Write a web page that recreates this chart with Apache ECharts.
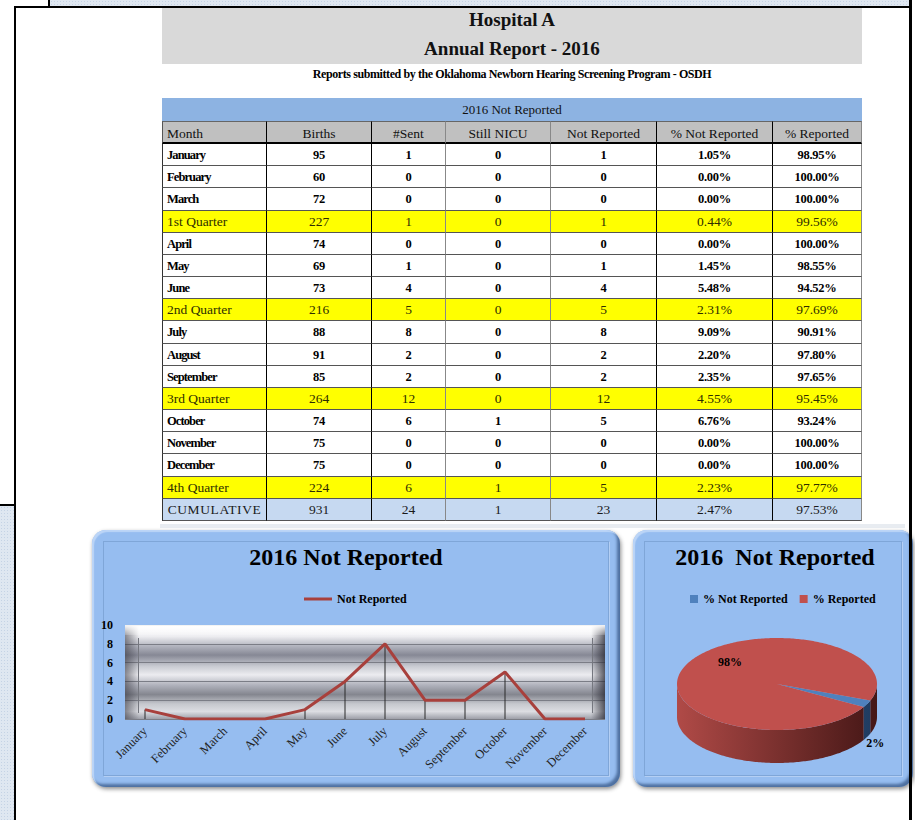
<!DOCTYPE html>
<html>
<head>
<meta charset="utf-8">
<script src="https://cdn.jsdelivr.net/npm/echarts@6/dist/echarts.min.js"></script>
<style>
  body { margin: 0; width: 915px; height: 820px; position: relative; overflow: hidden; background: #fff; font-family: "Liberation Serif", "DejaVu Serif", serif; }
  .abs { position: absolute; }
  .pattern { background-color: #dfe7f1; background-image: radial-gradient(#c5d3e5 0.8px, transparent 1px); background-size: 3px 3px; }
  .cell { position: absolute; box-sizing: border-box; text-align: center; white-space: nowrap; overflow: hidden; color: #000; }
  .panel { position: absolute; border-radius: 14px; background: #96bdf0;
    box-shadow: inset 2px 2px 1px #bcd5f7, inset -3px -3px 3px #4e70a0, 1px 2px 4px rgba(0,0,0,0.45); }
  .panel .inner { position: absolute; left: 11px; top: 11px; right: 11px; bottom: 11px; border: 1px solid #7fa6d8; box-shadow: 1px 1px 0 #b4cff4; }
</style>
</head>
<body>
<div class="abs pattern" style="left:48px;top:0;width:860px;height:6px;border-left:2px solid #000"></div>
<div class="abs" style="left:14px;top:6px;width:898px;height:2px;background:#000"></div>
<div class="abs" style="left:14px;top:6px;width:2px;height:814px;background:#000"></div>
<div class="abs pattern" style="left:0;top:504px;width:14px;height:316px;border-top:2px solid #000"></div>

<div class="abs" style="left:162px;top:8px;width:700px;height:56px;background:#d9d9d9"></div>
<div class="abs" style="left:162px;top:8px;width:700px;text-align:center;font-weight:bold;font-size:19px;line-height:23px;color:#111">Hospital A</div>
<div class="abs" style="left:162px;top:37px;width:700px;text-align:center;font-weight:bold;font-size:19px;line-height:23px;color:#111">Annual Report - 2016</div>
<div class="abs" style="left:162px;top:67px;width:700px;text-align:center;font-weight:bold;font-size:12px;letter-spacing:-0.4px;line-height:15px">Reports submitted by the Oklahoma Newborn Hearing Screening Program - OSDH</div>

<div id="tbl"></div>
<div class="abs" style="left:160px;top:524px;width:745px;height:4px;background:#e8ecf1"></div>

<div class="panel" style="left:92px;top:530px;width:528px;height:257px"><div class="inner"></div></div>
<div class="panel" style="left:633px;top:530px;width:280px;height:257px"><div class="inner"></div></div>
<div id="lc" class="abs" style="left:92px;top:530px;width:528px;height:257px"></div>
<div id="pc" class="abs" style="left:633px;top:530px;width:279px;height:257px"></div>

<div class="abs" style="left:909px;top:0;width:3px;height:820px;background:#000"></div>

<script>
// table data
const rowLabels = ['January', 'February', 'March', '1st Quarter', 'April', 'May', 'June', '2nd Quarter',
  'July', 'August', 'September', '3rd Quarter', 'October', 'November', 'December', '4th Quarter', 'CUMULATIVE']
const births = [95, 60, 72, 227, 74, 69, 73, 216, 88, 91, 85, 264, 74, 75, 75, 224, 931]
const sent = [1, 0, 0, 1, 0, 1, 4, 5, 8, 2, 2, 12, 6, 0, 0, 6, 24]
const stillNicu = [0, 0, 0, 0, 0, 0, 0, 0, 0, 0, 0, 0, 1, 0, 0, 1, 1]
const notReported = [1, 0, 0, 1, 0, 1, 4, 5, 8, 2, 2, 12, 5, 0, 0, 5, 23]
const pctNotReported = ['1.05%', '0.00%', '0.00%', '0.44%', '0.00%', '1.45%', '5.48%', '2.31%', '9.09%', '2.20%',
  '2.35%', '4.55%', '6.76%', '0.00%', '0.00%', '2.23%', '2.47%']
const pctReported = ['98.95%', '100.00%', '100.00%', '99.56%', '100.00%', '98.55%', '94.52%', '97.69%', '90.91%',
  '97.80%', '97.65%', '95.45%', '93.24%', '100.00%', '100.00%', '97.77%', '97.53%']
const headers = ['Month', 'Births', '#Sent', 'Still NICU', 'Not Reported', '% Not Reported', '% Reported']

// line chart data
const months = ['January', 'February', 'March', 'April', 'May', 'June', 'July', 'August', 'September', 'October', 'November', 'December']
const notReportedByMonth = [1, 0, 0, 0, 1, 4, 8, 2, 2, 5, 0, 0]

// pie data
const pieNames = ['% Not Reported', '% Reported']
const pieValues = [2.47, 97.53]
const pieColors = ['#4f81bd', '#c0504d']

const FONT = '"Liberation Serif", "DejaVu Serif", serif'

// ---- table ----
const tbl = document.getElementById('tbl')
const colX = [162, 267, 372, 446, 551, 657, 773, 862]
const colBorder = ['#000', '#000', '#888', '#888', '#000', '#000', '#888']
function addCell (x, y, w, h, html, css) {
  const d = document.createElement('div')
  d.className = 'cell'
  d.style.cssText = `left:${x}px;top:${y}px;width:${w}px;height:${h}px;line-height:${h}px;` + (css || '')
  d.textContent = html
  tbl.appendChild(d)
}
addCell(162, 98, 700, 23, '2016 Not Reported', 'background:#8db3e2;font-size:13px;color:#111;')
headers.forEach((h, c) => {
  addCell(colX[c], 121, colX[c + 1] - colX[c], 23, h,
    `background:#c0c0c0;font-size:13.5px;color:#111;border-right:1px solid ${colBorder[c]};border-top:1px solid #666;border-bottom:2px solid #000;` +
    (c === 0 ? 'text-align:left;padding-left:4px;border-left:1px solid #555;' : ''))
})
const rowH = 377 / 17
rowLabels.forEach((lab, i) => {
  const y = 144 + i * rowH
  const quarter = lab.indexOf('Quarter') >= 0
  const cum = lab === 'CUMULATIVE'
  const vals = [lab, births[i], sent[i], stillNicu[i], notReported[i], pctNotReported[i], pctReported[i]]
  vals.forEach((v, c) => {
    let css = `border-right:1px solid ${colBorder[c]};border-bottom:1px solid #555;`
    if (quarter) css += 'background:#ffff00;color:#2e2e00;font-size:13.5px;'
    else if (cum) css += 'background:#c6d9f1;color:#1a1a1a;font-size:13.5px;'
    else css += 'font-weight:bold;font-size:12.5px;letter-spacing:-0.3px;'
    if (c === 0) {
      css += 'border-left:1px solid #333;'
      if (cum) css += 'letter-spacing:0.6px;'
      else css += 'text-align:left;padding-left:4px;' + (quarter ? '' : 'letter-spacing:-0.9px;')
    }
    addCell(colX[c], Math.round(y), colX[c + 1] - colX[c], Math.round(y + rowH) - Math.round(y), String(v), css)
  })
})

// ---- line chart ----
const lc = echarts.init(document.getElementById('lc'), null, { renderer: 'svg' })
const metal = new echarts.graphic.LinearGradient(0, 0, 0, 1, [
  { offset: 0, color: '#ffffff' }, { offset: 0.12, color: '#eeeef1' }, { offset: 0.22, color: '#b4b6c0' },
  { offset: 0.32, color: '#868895' }, { offset: 0.44, color: '#c9cbd2' }, { offset: 0.53, color: '#ececf0' },
  { offset: 0.64, color: '#b0b2bc' }, { offset: 0.74, color: '#84868f' }, { offset: 0.84, color: '#c6c8ce' },
  { offset: 0.92, color: '#dcdde2' }, { offset: 1, color: '#9d9fa8' }
])
lc.setOption({
  animation: false,
  graphic: [
    { type: 'text', x: 254, y: 27, z: 10,
      style: { text: '2016 Not Reported', font: 'bold 24px ' + FONT, fill: '#000', textAlign: 'center', align: 'center', textVerticalAlign: 'middle', verticalAlign: 'middle' } },
    { type: 'rect', z: 1, silent: true, shape: { x: 33, y: 95, width: 14, height: 94 },
      style: { fill: new echarts.graphic.LinearGradient(0, 0, 1, 0, [{ offset: 0, color: 'rgba(50,50,60,0.55)' }, { offset: 1, color: 'rgba(50,50,60,0)' }]) } },
    { type: 'rect', z: 1, silent: true, shape: { x: 499, y: 95, width: 14, height: 94 },
      style: { fill: new echarts.graphic.LinearGradient(0, 0, 1, 0, [{ offset: 0, color: 'rgba(50,50,60,0)' }, { offset: 1, color: 'rgba(40,40,50,0.75)' }]) } },
    { type: 'rect', z: 1, silent: true, shape: { x: 33, y: 95, width: 480, height: 10 },
      style: { fill: new echarts.graphic.LinearGradient(0, 0, 0, 1, [{ offset: 0, color: 'rgba(255,255,255,0.95)' }, { offset: 1, color: 'rgba(255,255,255,0.2)' }]) } },
    { type: 'line', z: 1, silent: true, shape: { x1: 46.5, y1: 108, x2: 46.5, y2: 183 }, style: { stroke: '#75777f', lineWidth: 1 } },
    { type: 'line', z: 1, silent: true, shape: { x1: 500.5, y1: 108, x2: 500.5, y2: 183 }, style: { stroke: '#75777f', lineWidth: 1 } }
  ],
  legend: {
    data: ['Not Reported'], left: 207, top: 58, icon: 'rect', itemWidth: 28, itemHeight: 3, itemGap: 4,
    textStyle: { fontFamily: FONT, fontWeight: 'bold', fontSize: 12, color: '#000' }
  },
  grid: {
    left: 33, right: 15, top: 95, bottom: 68, show: true, borderWidth: 0, backgroundColor: metal
  },
  xAxis: {
    type: 'category', data: months, boundaryGap: true,
    axisTick: { show: false },
    axisLine: { show: false },
    axisLabel: { interval: 0, rotate: 45, margin: 10, fontFamily: FONT, fontSize: 12.5, color: '#222' }
  },
  yAxis: {
    type: 'value', min: 0, max: 10, interval: 2,
    axisLine: { show: false }, axisTick: { show: false },
    axisLabel: { margin: 12, fontFamily: FONT, fontWeight: 'bold', fontSize: 12, color: '#000' },
    splitLine: { lineStyle: { color: '#7b7d86', width: 1 } }
  },
  series: [
    { name: 'drop', type: 'bar', data: notReportedByMonth, barWidth: 1, silent: true, z: 2,
      itemStyle: { color: '#2a2a2a' } },
    { name: 'Not Reported', type: 'line', data: notReportedByMonth, symbol: 'none', z: 3,
      lineStyle: { color: '#a8403c', width: 3 }, itemStyle: { color: '#a8403c' } }
  ]
})

// ---- 3D-looking pie ----
const pc = echarts.init(document.getElementById('pc'), null, { renderer: 'svg' })
const cx = 144, cy = 154, rx = 100, ry = 46, depth = 33, startDeg = 21
const total = pieValues.reduce((a, b) => a + b, 0)
const sideColors = [['#3a6396', '#1f3b60'], ['#b04a47', '#451716']]
function pt (deg, dy) {
  const r = deg * Math.PI / 180
  return [cx + rx * Math.cos(r), cy + ry * Math.sin(r) + (dy || 0)]
}
function arc (a, b, dy) {
  const pts = []
  const n = Math.max(2, Math.ceil(Math.abs(b - a)))
  for (let k = 0; k <= n; k++) pts.push(pt(a + (b - a) * k / n, dy))
  return pts
}
function pieRender (idx) {
  return function (params, api) {
    let start = startDeg
    for (let k = 0; k < idx; k++) start += pieValues[k] / total * 360
    const end = start + api.value(0) / total * 360
    const children = []
    for (let turn = 0; turn < 2; turn++) {
      const lo = Math.max(start, 360 * turn)
      const hi = Math.min(end, 360 * turn + 180)
      if (hi > lo) {
        const pts = arc(lo, hi, 0).concat(arc(hi, lo, depth))
        children.push({
          type: 'polygon', shape: { points: pts },
          style: { fill: new echarts.graphic.LinearGradient(cx - rx, 0, cx + rx, 0, [
            { offset: 0, color: sideColors[idx][0] }, { offset: 1, color: sideColors[idx][1] }], true) }
        })
      }
    }
    children.push({ type: 'polygon', shape: { points: [[cx, cy]].concat(arc(start, end, 0)) }, style: { fill: pieColors[idx] } })
    const share = api.value(0) / total
    const mid = (start + end) / 2 * Math.PI / 180
    const label = Math.round(share * 100) + '%'
    let lx, ly
    if (share > 0.1) {
      lx = cx + 0.52 * rx * Math.cos(mid); ly = cy + 1.1 * ry * Math.sin(mid)
    } else {
      lx = cx + rx * Math.cos(mid) + 8; ly = cy + ry * Math.sin(mid) + depth + 6
    }
    children.push({ type: 'text', x: lx, y: ly,
      style: { text: label, font: 'bold 12px ' + FONT, fill: '#000', textAlign: 'center', align: 'center', textVerticalAlign: 'middle', verticalAlign: 'middle' } })
    return { type: 'group', children }
  }
}
pc.setOption({
  animation: false,
  graphic: [
    { type: 'text', x: 142, y: 27,
      style: { text: '2016\u00a0 Not Reported', font: 'bold 24px ' + FONT, fill: '#000', textAlign: 'center', align: 'center', textVerticalAlign: 'middle', verticalAlign: 'middle' } }
  ],
  legend: {
    data: pieNames, left: 52, top: 58, icon: 'rect', itemWidth: 8, itemHeight: 8, itemGap: 12,
    textStyle: { fontFamily: FONT, fontWeight: 'bold', fontSize: 12, color: '#000' }
  },
  series: pieNames.map((name, i) => ({
    name, type: 'custom', coordinateSystem: 'none', data: [pieValues[i]],
    itemStyle: { color: pieColors[i] }, renderItem: pieRender(i)
  }))
})
</script>
</body>
</html>
